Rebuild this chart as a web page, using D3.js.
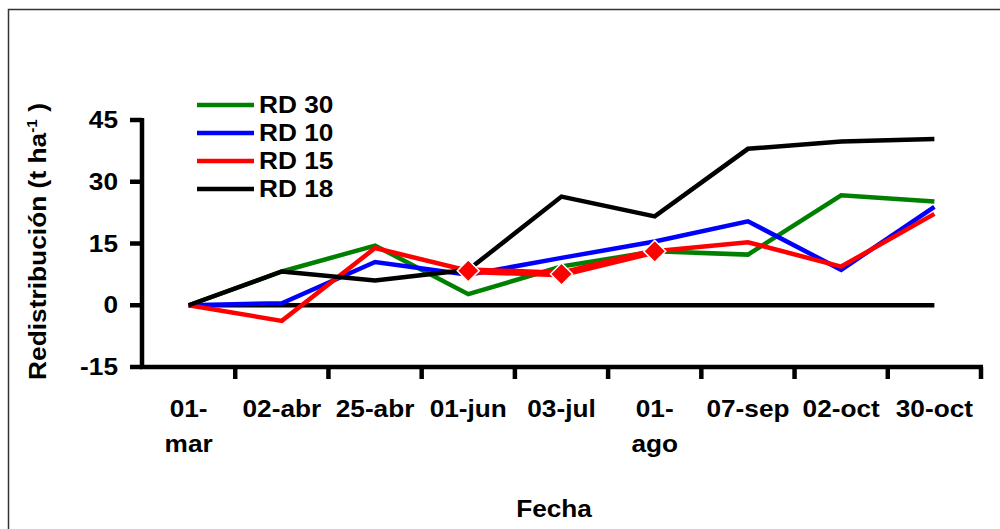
<!DOCTYPE html>
<html lang="es">
<head>
  <meta charset="UTF-8">
  <title>Redistribución</title>
  <script src="https://d3js.org/d3.v7.min.js"></script>
  <style>
    body {
      margin: 0;
      background: #fff;
    }

    svg text {
      font-family: "Liberation Sans", Arial, sans-serif;
      font-weight: bold;
      fill: #000;
    }
  </style>
</head>
<body>
  <div id="chart"></div>
  <script>
    // fechas de muestreo (the two split ones wrap onto a second line)
    const fechas = ["01-mar", "02-abr", "25-abr", "01-jun", "03-jul", "01-ago", "07-sep", "02-oct", "30-oct"];
    const fechaLabels = [["01-", "mar"], ["02-abr"], ["25-abr"], ["01-jun"], ["03-jul"], ["01-", "ago"], ["07-sep"], ["02-oct"], ["30-oct"]];

    const rd30 = [0, 8.2, 14.5, 2.7, 9.4, 13.1, 12.3, 26.7, 25.2];
    const rd10 = [0, 0.5, 10.5, 7.4, 11.5, 15.5, 20.4, 8.6, 23.9];
    const rd15 = [0, -3.8, 13.9, 8.4, 7.6, 13.1, 15.3, 9.4, 22.2];
    const rd18 = [0, 8.2, 6.0, 8.6, 26.4, 21.6, 38.0, 39.8, 40.4];
    const cero = [0, 0, 0, 0, 0, 0, 0, 0, 0];

    // red series with diamond markers (only three dates)
    const marcaFechas = ["01-jun", "03-jul", "01-ago"];
    const marcaValores = [8.4, 7.6, 13.1];

    const yTicks = [-15, 0, 15, 30, 45];

    const series = [
      { name: "RD 30", values: rd30, color: "#008000" },
      { name: "RD 10", values: rd10, color: "#0000ff" },
      { name: "RD 15", values: rd15, color: "#ff0000" },
      { name: "RD 18", values: rd18, color: "#000000" }
    ];

    const width = 1000;
    const height = 529;
    const fs = 23;
    const sx = 1.14; // text in the original is a bit wide
    const lw = 4.5;

    const svg = d3.select("#chart")
      .append("svg")
      .attr("width", width)
      .attr("height", height)
      .style("display", "block");

    // wide text helper
    function wideText(parent, px, py, anchor) {
      return parent.append("text")
        .attr("transform", `translate(${px},${py}) scale(${sx},1)`)
        .attr("text-anchor", anchor)
        .style("font-size", fs + "px");
    }

    // chart frame
    svg.append("rect")
      .attr("x", 8.5)
      .attr("y", 9.5)
      .attr("width", 1000)
      .attr("height", 600)
      .attr("fill", "none")
      .attr("stroke", "#333")
      .attr("stroke-width", 1.5);

    const x = d3.scaleBand()
      .domain(fechas)
      .range([142, 981]);

    const y = d3.scaleLinear()
      .domain([-15, 45])
      .range([367, 120]);

    const cx = d => x(d) + x.bandwidth() / 2;

    // y axis
    const yAxis = svg.append("g");
    yAxis.append("line")
      .attr("x1", 142).attr("x2", 142)
      .attr("y1", y(45) - 2).attr("y2", y(-15) + 2)
      .attr("stroke", "#000").attr("stroke-width", lw);

    yTicks.forEach(t => {
      yAxis.append("line")
        .attr("x1", 130).attr("x2", 142)
        .attr("y1", y(t)).attr("y2", y(t))
        .attr("stroke", "#000").attr("stroke-width", lw);
      wideText(yAxis, 118, y(t) + 8, "end").text(t);
    });

    // x axis
    const xAxis = svg.append("g");
    xAxis.append("line")
      .attr("x1", 140).attr("x2", 983)
      .attr("y1", y(-15)).attr("y2", y(-15))
      .attr("stroke", "#000").attr("stroke-width", lw);

    xAxis.selectAll(".xtick")
      .data(fechas)
      .enter()
      .append("line")
      .attr("class", "xtick")
      .attr("x1", d => x(d) + x.bandwidth())
      .attr("x2", d => x(d) + x.bandwidth())
      .attr("y1", y(-15))
      .attr("y2", y(-15) + 12)
      .attr("stroke", "#000").attr("stroke-width", lw);

    fechas.forEach((f, i) => {
      fechaLabels[i].forEach((t, j) => {
        wideText(xAxis, cx(f), 417 + j * 35, "middle").text(t);
      });
    });

    // axis titles
    wideText(svg, 554, 517, "middle").text("Fecha");

    // y title: spans roughly y 103..380
    const yTitle = svg.append("text")
      .attr("text-anchor", "start")
      .style("font-size", "24px");
    yTitle.append("tspan").text("Redistribución (t ha");
    yTitle.append("tspan").attr("dy", -9).style("font-size", "14px").text("-1");
    yTitle.append("tspan").attr("dy", 9).text(" )");
    const tLen = yTitle.node().getComputedTextLength();
    yTitle.attr("transform", `translate(46,380) rotate(-90) scale(${277 / tLen},1)`);

    // lines
    const line = d3.line()
      .x((d, i) => cx(fechas[i]))
      .y(d => y(d));

    svg.append("path")
      .attr("d", line(cero))
      .attr("fill", "none")
      .attr("stroke", "#000")
      .attr("stroke-width", lw);

    svg.selectAll(".serie")
      .data(series)
      .enter()
      .append("path")
      .attr("class", "serie")
      .attr("d", d => line(d.values))
      .attr("fill", "none")
      .attr("stroke", d => d.color)
      .attr("stroke-width", lw)
      .attr("stroke-linejoin", "miter");

    const marcaLine = d3.line()
      .x((d, i) => cx(marcaFechas[i]))
      .y(d => y(d));

    svg.append("path")
      .attr("d", marcaLine(marcaValores))
      .attr("fill", "none")
      .attr("stroke", "#ff0000")
      .attr("stroke-width", 7);

    svg.selectAll(".marca")
      .data(marcaValores)
      .enter()
      .append("path")
      .attr("class", "marca")
      .attr("transform", (d, i) => `translate(${cx(marcaFechas[i])},${y(d)})`)
      .attr("d", "M0,-11L11,0L0,11L-11,0Z")
      .attr("fill", "#ff0000")
      .attr("stroke", "#fff")
      .attr("stroke-width", 1.5);

    // legend
    const legend = svg.selectAll(".legend")
      .data(series)
      .enter()
      .append("g")
      .attr("class", "legend")
      .attr("transform", (d, i) => `translate(197, ${105 + i * 28})`);

    legend.append("line")
      .attr("x1", 0).attr("x2", 57)
      .attr("stroke", d => d.color)
      .attr("stroke-width", lw);

    legend.each(function () {
      wideText(d3.select(this), 62, 8, "start").text(d => d.name);
    });
  </script>
</body>
</html>
